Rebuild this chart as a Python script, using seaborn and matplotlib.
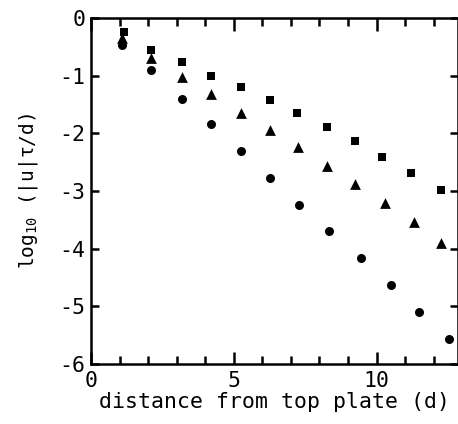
import matplotlib
matplotlib.use("Agg")
import matplotlib.pyplot as plt
import seaborn as sns
import pandas as pd
from matplotlib.ticker import MultipleLocator

sns.set_style("white")
plt.rcParams['font.family'] = ['DejaVu Sans Mono', 'DejaVu Sans']
plt.rcParams['mathtext.fontset'] = 'custom'
plt.rcParams['mathtext.rm'] = 'DejaVu Sans Mono'
plt.rcParams['mathtext.default'] = 'regular'

# Data
x_sq = [1.15, 2.1, 3.2, 4.2, 5.25, 6.25, 7.2, 8.25, 9.25, 10.2, 11.2, 12.25]
y_sq = [-0.24, -0.55, -0.76, -1.00, -1.20, -1.43, -1.65, -1.89, -2.14, -2.41, -2.69, -2.99]
x_tr = [1.1, 2.1, 3.2, 4.2, 5.25, 6.25, 7.25, 8.25, 9.25, 10.3, 11.3, 12.25]
y_tr = [-0.35, -0.70, -1.02, -1.31, -1.64, -1.94, -2.24, -2.56, -2.87, -3.21, -3.53, -3.90]
x_ci = [1.1, 2.1, 3.2, 4.2, 5.25, 6.25, 7.3, 8.35, 9.45, 10.5, 11.5, 12.55]
y_ci = [-0.47, -0.91, -1.40, -1.84, -2.30, -2.77, -3.24, -3.70, -4.17, -4.63, -5.10, -5.57]

xticks = [0, 5, 10]
yticks = [0, -1, -2, -3, -4, -5, -6]

df = pd.DataFrame({
    "x": x_sq + x_tr + x_ci,
    "y": y_sq + y_tr + y_ci,
    "series": ["sq"] * len(x_sq) + ["tr"] * len(x_tr) + ["ci"] * len(x_ci),
})

fig = plt.figure(figsize=(4.58, 4.24), dpi=100)
ax = fig.add_axes([91 / 458, 1 - 364 / 424, 1 - 91 / 458, (364 - 18) / 424])

sizes = {"sq": 30, "tr": 60, "ci": 42}
markers = {"sq": "s", "tr": "^", "ci": "o"}
for key in ["sq", "tr", "ci"]:
    sub = df[df["series"] == key]
    sns.scatterplot(data=sub, x="x", y="y", marker=markers[key], s=sizes[key],
                    color="black", edgecolor="black", linewidth=0, ax=ax, legend=False)

ax.set_xlim(0, 12.85)
ax.set_ylim(-6, 0)
ax.xaxis.set_major_locator(MultipleLocator(5))
ax.xaxis.set_minor_locator(MultipleLocator(1))
ax.set_yticks(yticks)
ax.set_yticklabels([f"-{abs(v)}" if v != 0 else "0" for v in yticks])
ax.set_xticks(xticks)
ax.set_xticklabels([str(v) for v in xticks])

for s in ax.spines.values():
    s.set_linewidth(1.8)
    s.set_color("black")

ax.tick_params(axis="both", which="both", direction="in", top=True, right=True,
               bottom=True, left=True, colors="black", labelcolor="black", labelsize=15.5)
ax.tick_params(axis="x", which="major", length=9, width=1.8, pad=5)
ax.tick_params(axis="x", which="minor", length=6, width=1.8)
ax.tick_params(axis="y", which="major", length=6, width=1.8, pad=4)

ax.set_xlabel("distance from top plate (d)", fontsize=15.5, labelpad=1, color="black")
ax.set_ylabel(r"log$_{10}$ (|u|τ/d)", fontsize=14, labelpad=14, color="black")

fig.savefig("out.png", dpi=100)
